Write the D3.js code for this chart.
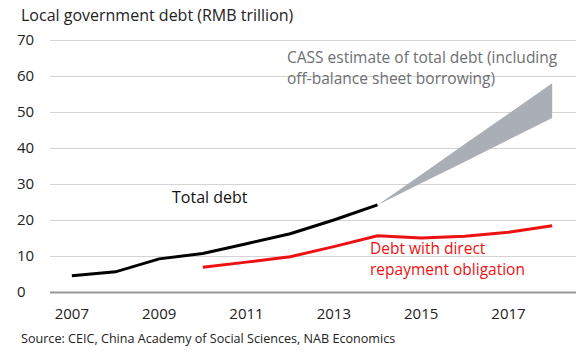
<!DOCTYPE html>
<html>
<head>
<meta charset="utf-8">
<script src="https://cdn.jsdelivr.net/npm/d3@7"></script>
<style>
  body { margin: 0; background: #fff; }
  svg text { font-family: "Open Sans", "Noto Sans", sans-serif; }
</style>
</head>
<body>
<svg id="chart" width="580" height="352"></svg>
<script>
// data (RMB trillion)
const years = [2007, 2008, 2009, 2010, 2011, 2012, 2013, 2014, 2015, 2016, 2017, 2018];
const tickYears = [2007, 2009, 2011, 2013, 2015, 2017];
const totalDebt = [4.5, 5.6, 9.2, 10.7, 13.4, 16.2, 20.0, 24.2];
const directYears = [2010, 2011, 2012, 2013, 2014, 2015, 2016, 2017, 2018];
const directDebt = [6.9, 8.3, 9.8, 12.6, 15.6, 15.0, 15.5, 16.6, 18.4];
const cassYears = [2014, 2015, 2016, 2017, 2018];
const cassHigh = [24.2, 32.6, 41.1, 49.5, 58.0];
const cassLow = [24.2, 30.2, 36.2, 42.3, 48.3];
const yTicks = [0, 10, 20, 30, 40, 50, 60, 70];

const svg = d3.select("#chart");
const mLeft = 50, mRight = 574, mTop = 40, mBottom = 292;

const x = d3.scaleBand().domain(years).range([mLeft, mRight]);
const cx = d => x(d) + x.bandwidth() / 2;
const y = d3.scaleLinear().domain([0, 70]).range([mBottom, mTop]);

// title
svg.append("text").attr("x", 21).attr("y", 21)
  .attr("font-size", 16).attr("fill", "#222")
  .text("Local government debt (RMB trillion)");

// grid + y labels
const yAxis = d3.axisLeft(y).tickValues(yTicks).tickSize(-(mRight - mLeft + 2)).tickPadding(12);
const gy = svg.append("g").attr("transform", `translate(${mLeft},0)`).call(yAxis);
gy.select(".domain").remove();
gy.selectAll(".tick line").attr("stroke", d => d === 0 ? "#999" : "#d4d4d4")
  .attr("stroke-width", d => d === 0 ? 2 : 1);
gy.selectAll(".tick text").attr("font-size", 15).attr("fill", "#222")
  .attr("text-anchor", "start").attr("x", -33);

// x labels
const xAxis = d3.axisBottom(x).tickValues(tickYears).tickSize(0).tickPadding(16);
const gx = svg.append("g").attr("transform", `translate(0,${mBottom})`).call(xAxis);
gx.select(".domain").remove();
gx.selectAll(".tick text").attr("font-size", 15).attr("fill", "#222");

// CASS band
const area = d3.area()
  .x((d, i) => cx(cassYears[i]))
  .y0((d, i) => y(cassLow[i]))
  .y1(d => y(d));
svg.append("path").datum(cassHigh).attr("d", area).attr("fill", "#a9afb4");

// lines
const lineTotal = d3.line().x((d, i) => cx(years[i])).y(d => y(d));
svg.append("path").datum(totalDebt).attr("d", lineTotal)
  .attr("fill", "none").attr("stroke", "#000").attr("stroke-width", 3);

const lineDirect = d3.line().x((d, i) => cx(directYears[i])).y(d => y(d));
svg.append("path").datum(directDebt).attr("d", lineDirect)
  .attr("fill", "none").attr("stroke", "#ee1111").attr("stroke-width", 3);

// annotations
svg.append("text").attr("x", 172).attr("y", 203).attr("font-size", 16).attr("fill", "#111")
  .text("Total debt");

const cass = svg.append("text").attr("font-size", 15.5).attr("fill", "#6d6f72");
cass.append("tspan").attr("x", 287).attr("y", 63).text("CASS estimate of total debt (including");
cass.append("tspan").attr("x", 287).attr("y", 84).text("off-balance sheet borrowing)");

const direct = svg.append("text").attr("font-size", 15.5).attr("fill", "#ee1111");
direct.append("tspan").attr("x", 370).attr("y", 254).text("Debt with direct");
direct.append("tspan").attr("x", 370).attr("y", 275).text("repayment obligation");

// source
svg.append("text").attr("x", 21).attr("y", 343).attr("font-size", 12.6).attr("fill", "#222")
  .text("Source: CEIC, China Academy of Social Sciences, NAB Economics");
</script>
</body>
</html>
